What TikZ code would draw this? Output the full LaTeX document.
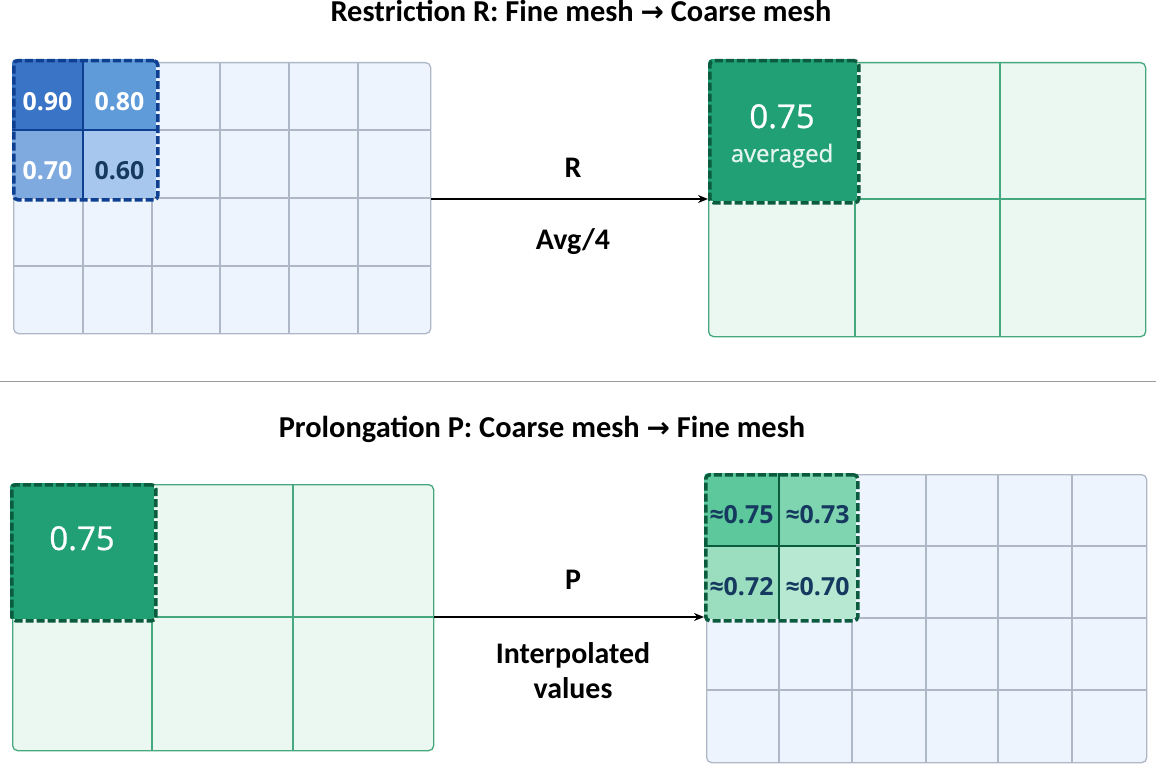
\documentclass[tikz,border=0pt]{standalone}
\usepackage{fontspec}
\setmainfont{Carlito}
\newfontfamily\numfont{Open Sans}
\newfontfamily\medfont[FakeBold=0.9]{Open Sans}
\newfontfamily\symfont{DejaVu Sans}
\usetikzlibrary{arrows.meta}
\definecolor{fineFill}{HTML}{EEF4FD}
\definecolor{fineLine}{HTML}{AEB8C6}
\definecolor{coarseFill}{HTML}{EBF7F1}
\definecolor{coarseLine}{HTML}{45A87F}
\definecolor{blueDark}{HTML}{0F3F91}
\definecolor{cA}{HTML}{3A74C6}
\definecolor{cB}{HTML}{5E9BD8}
\definecolor{cC}{HTML}{7EAADF}
\definecolor{cD}{HTML}{A7C7EF}
\definecolor{greenHL}{HTML}{20A074}
\definecolor{greenBorder}{HTML}{0B5B3F}
\definecolor{gA}{HTML}{5CC89C}
\definecolor{gB}{HTML}{7ED5B0}
\definecolor{gC}{HTML}{9ADDBF}
\definecolor{gD}{HTML}{B7E9D2}
\definecolor{navy}{HTML}{163A5F}
\definecolor{sepGray}{HTML}{9A9A9A}
\tikzset{
  gridbox/.style={rectangle, inner sep=0pt, anchor=north west, rounded corners=5bp, line width=1.3bp},
  finegrid/.style={gridbox, fill=fineFill, draw=fineLine},
  coarsegrid/.style={gridbox, fill=coarseFill, draw=coarseLine},
  fineline/.style={draw=fineLine, line width=1.3bp},
  coarseline/.style={draw=coarseLine, line width=1.3bp},
  hlbox/.style={rectangle, inner sep=0pt, anchor=north west, rounded corners=4bp, line width=3.5bp, dash pattern=on 8bp off 3bp},
  hlblue/.style={hlbox, draw=blueDark},
  hlgreen/.style={hlbox, draw=greenBorder},
  titletext/.style={font=\fontsize{30.5}{34}\selectfont\bfseries, inner sep=0pt, anchor=base},
  lbl/.style={font=\fontsize{30}{35}\selectfont\bfseries, inner sep=0pt, anchor=base},
  numw/.style={font=\numfont\fontsize{25}{28}\selectfont\bfseries, text=white, inner sep=0pt, anchor=base},
  numn/.style={font=\numfont\fontsize{25}{28}\selectfont\bfseries, text=navy, inner sep=0pt, anchor=base},
  bignum/.style={font=\medfont\fontsize{33}{36}\selectfont, text=white, inner sep=0pt, anchor=base},
  arr/.style={-{Stealth[length=10bp,width=8bp]}, line width=2bp, black}
}
\begin{document}
\begin{tikzpicture}[x=1bp,y=-1bp]
\useasboundingbox (0,0) rectangle (1156,765);
\fill[white] (0,0) rectangle (1156,765);

% ---------- titles ----------
\node[titletext] (t1) at (581,22) {Restriction R: Fine mesh {\symfont\bfseries\fontsize{28}{30}\selectfont →} Coarse mesh};
\node[titletext] (t2) at (542,437) {Prolongation P: Coarse mesh {\symfont\bfseries\fontsize{28}{30}\selectfont →} Fine mesh};

% ---------- separator ----------
\draw[sepGray, line width=1bp] (0,381) -- (1156,381);

% ---------- top-left fine grid ----------
\node[finegrid, minimum width=417bp, minimum height=271bp] (g1) at (13,62) {};
\foreach \x in {83,152,220,289,358} \draw[fineline] (\x,62) -- (\x,333);
\foreach \y in {130,198,266} \draw[fineline] (13,\y) -- (430,\y);
\begin{scope}
  \clip[rounded corners=4bp] (12,59) rectangle (156,198);
  \fill[cA] (12,59) rectangle (83,130);
  \fill[cB] (83,59) rectangle (156,130);
  \fill[cC] (12,130) rectangle (83,198);
  \fill[cD] (83,130) rectangle (156,198);
\end{scope}
\draw[blueDark, line width=2bp] (83,59) -- (83,198) (12,130) -- (156,130);
\node[hlblue, minimum width=144bp, minimum height=139bp] (h1) at (12,59) {};
\node[numw] (v1) at (47.5,111) {0.90};
\node[numw] (v2) at (119.5,111) {0.80};
\node[numw] (v3) at (47.5,179) {0.70};
\node[numn] (v4) at (119.5,179) {0.60};

% ---------- top-right coarse grid ----------
\node[coarsegrid, minimum width=437bp, minimum height=274bp] (g2) at (708,62) {};
\foreach \x in {855,1000} \draw[coarseline] (\x,62) -- (\x,336);
\draw[coarseline] (708,199) -- (1145,199);
\begin{scope}
  \clip[rounded corners=4bp] (708,59) rectangle (857,201);
  \fill[greenHL] (708,59) rectangle (857,201);
\end{scope}
\node[hlgreen, minimum width=149bp, minimum height=142bp] (h2) at (708,59) {};
\node[bignum] (a1) at (782,128) {0.75};
\node[font=\medfont\fontsize{24}{27}\selectfont, text=white!88!greenHL, inner sep=0pt, anchor=base] (a2) at (782,162) {averaged};

% ---------- restriction arrow ----------
\draw[arr] (g1.east |- 0,199) -- (h2.west |- 0,199);
\node[lbl] (lr) at (573,177) {R};
\node[lbl] (la) at (573,249) {Avg/4};

% ---------- bottom-left coarse grid ----------
\node[coarsegrid, minimum width=421bp, minimum height=266bp] (g3) at (12,484) {};
\foreach \x in {152,293} \draw[coarseline] (\x,484) -- (\x,750);
\draw[coarseline] (12,617) -- (433,617);
\begin{scope}
  \clip[rounded corners=4bp] (10,483) rectangle (154,619);
  \fill[greenHL] (10,483) rectangle (154,619);
\end{scope}
\node[hlgreen, minimum width=144bp, minimum height=136bp] (h3) at (10,483) {};
\node[bignum] (b1) at (82,550) {0.75};

% ---------- bottom-right fine grid ----------
\node[finegrid, minimum width=440bp, minimum height=288bp] (g4) at (706,474) {};
\foreach \x in {779,852,926,998,1072} \draw[fineline] (\x,474) -- (\x,762);
\foreach \y in {546,618,690} \draw[fineline] (706,\y) -- (1146,\y);
\begin{scope}
  \clip[rounded corners=4bp] (704,473) rectangle (856,619);
  \fill[gA] (704,473) rectangle (779,546);
  \fill[gB] (779,473) rectangle (856,546);
  \fill[gC] (704,546) rectangle (779,619);
  \fill[gD] (779,546) rectangle (856,619);
\end{scope}
\draw[greenBorder, line width=2bp] (779,473) -- (779,619) (704,546) -- (856,546);
\node[hlgreen, minimum width=152bp, minimum height=146bp] (h4) at (704,473) {};
\node[numn] (p1) at (741.5,523) {≈0.75};
\node[numn] (p2) at (817.5,523) {≈0.73};
\node[numn] (p3) at (741.5,595) {≈0.72};
\node[numn] (p4) at (817.5,595) {≈0.70};

% ---------- prolongation arrow ----------
\draw[arr] (g3.east |- 0,617) -- (h4.west |- 0,617);
\node[lbl] (lp) at (573,589) {P};
\node[lbl] (li) at (573,663) {Interpolated};
\node[lbl] (lv) at (573,698) {values};
\end{tikzpicture}
\end{document}
